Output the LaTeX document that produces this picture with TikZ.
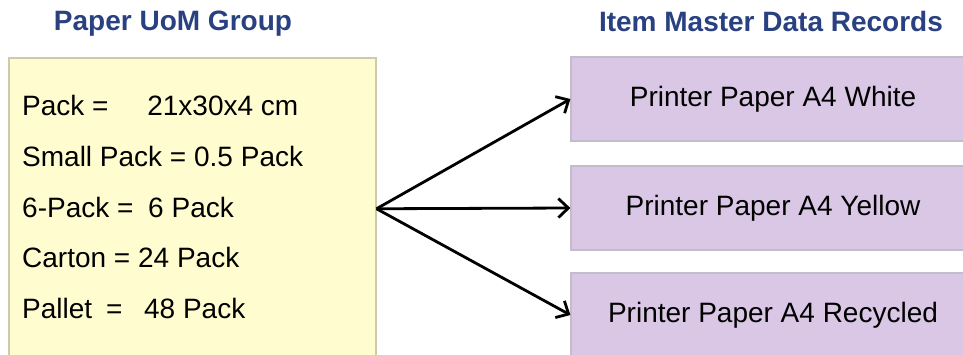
\documentclass[tikz,border=0pt]{standalone}
\usepackage{fontspec}
\setmainfont{Liberation Sans}
\usetikzlibrary{arrows.meta}
\definecolor{titleblue}{RGB}{41,65,128}
\definecolor{uomyellow}{RGB}{255,253,208}
\definecolor{uomedge}{RGB}{206,202,172}
\definecolor{itempurple}{RGB}{217,199,229}
\definecolor{itemedge}{RGB}{196,188,202}

\begin{document}
\begin{tikzpicture}[
	x=1pt,y=-1pt,
	title/.style={font=\fontsize{28}{32}\selectfont\bfseries,text=titleblue,inner sep=0pt},
	uombox/.style={draw=uomedge,fill=uomyellow,line width=1.5pt,minimum width=367pt,minimum height=302pt,inner sep=0pt},
	uomline/.style={font=\fontsize{28}{32}\selectfont,anchor=base west,inner sep=0pt},
	itembox/.style={draw=itemedge,fill=itempurple,line width=1.2pt,minimum width=404pt,minimum height=84pt,font=\fontsize{28}{32}\selectfont},
	link/.style={line width=2.8pt,-{Straight Barb[length=10pt,width=19pt,line width=2.8pt]}}
	]
	\useasboundingbox (0,0) rectangle (963,354);
	\clip (0,0) rectangle (963,354);

	\node[title,anchor=base] (uomtitle) at (173,30) {Paper UoM Group};
	\node[title,anchor=base] (itemtitle) at (771,31) {Item Master Data Records};

	\node[uombox,anchor=north west] (paper) at (8,57) {};
	\node[uomline] (pack) at (22,115) {Pack = \hspace{31pt}21x30x4 cm};
	\node[uomline] (small) at (22,166) {Small Pack = 0.5 Pack};
	\node[uomline] (six) at (22,217) {6-Pack = \hspace{7pt}6 Pack};
	\node[uomline] (carton) at (22,267) {Carton = 24 Pack};
	\node[uomline] (pallet) at (22,318) {Pallet \hspace{6pt}= \hspace{14pt}48 Pack};

	\node[itembox] (white) at (773,99) {Printer Paper A4 White};
	\node[itembox] (yellow) at (773,208) {Printer Paper A4 Yellow};
	\node[itembox] (recycled) at (773,315) {Printer Paper A4 Recycled};

	\draw[link] (paper.east) -- (white.west);
	\draw[link] (paper.east) -- (yellow.west);
	\draw[link] (paper.east) -- (recycled.west);

\end{tikzpicture}
\end{document}
